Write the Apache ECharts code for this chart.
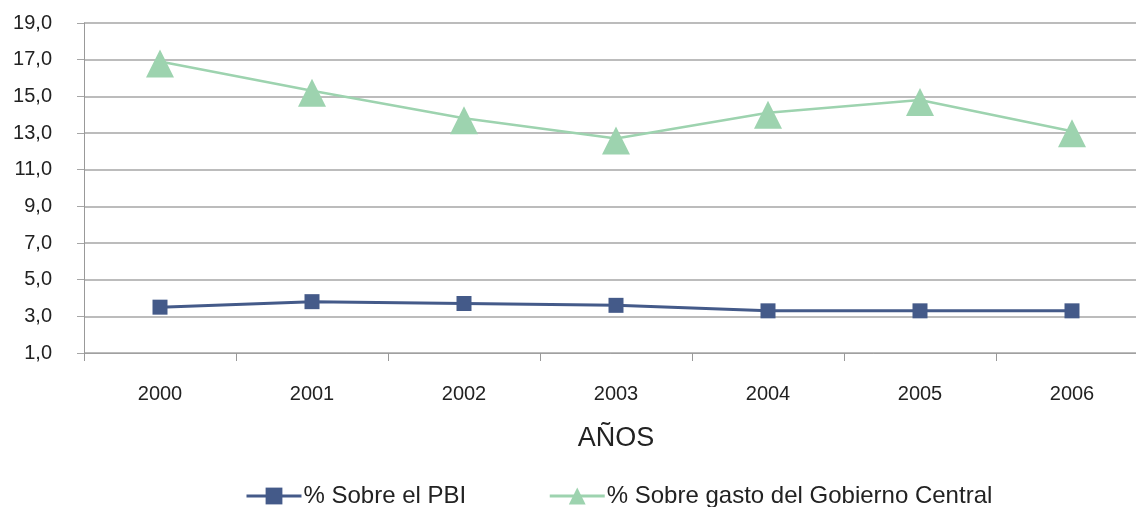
<!DOCTYPE html>
<html>
<head>
<meta charset="utf-8">
<script src="https://cdn.jsdelivr.net/npm/echarts@6/dist/echarts.min.js"></script>
<style>
html, body { margin: 0; padding: 0; background: #fff; }
#main { width: 1136px; height: 507px; }
</style>
</head>
<body>
<div id="main"></div>
<script>
var years = ['2000', '2001', '2002', '2003', '2004', '2005', '2006'];
var pbi = [3.5, 3.8, 3.7, 3.6, 3.3, 3.3, 3.3];
var gobierno = [16.9, 15.3, 13.8, 12.7, 14.1, 14.8, 13.1];
var nombres = ['% Sobre el PBI', '% Sobre gasto del Gobierno Central'];

var myChart = echarts.init(document.getElementById('main'));
var option = {
	animation: false,
	textStyle: { fontFamily: 'Liberation Sans, Arial, sans-serif' },
	// el eje x sigue mas alla del borde derecho
	grid: { left: 84, width: 1064, top: 23, height: 330, outerBoundsMode: 'none' },
	legend: {
		top: 484,
		left: 245,
		padding: 0,
		itemGap: 82,
		itemWidth: 55,
		itemHeight: 21,
		lineStyle: { width: 3 },
		textStyle: { fontSize: 24, color: '#222', padding: [0, 0, 0, -3] },
		data: nombres
	},
	xAxis: {
		type: 'category',
		data: years,
		boundaryGap: true,
		name: 'AÑOS',
		nameLocation: 'middle',
		nameGap: 72,
		nameTextStyle: { fontSize: 27, color: '#222' },
		axisLine: { lineStyle: { color: '#a0a0a0', width: 1 } },
		axisTick: { show: true, length: 8, lineStyle: { color: '#999' } },
		axisLabel: { fontSize: 20, color: '#222', margin: 31 }
	},
	yAxis: {
		type: 'value',
		min: 1,
		max: 19,
		interval: 2,
		axisLine: { show: true, lineStyle: { color: '#999', width: 1 } },
		axisTick: { show: true, length: 7, lineStyle: { color: '#a6a6a6' } },
		axisLabel: {
			fontSize: 20,
			color: '#222',
			margin: 32,
			formatter: function (v) { return v.toFixed(1).replace('.', ','); }
		},
		splitLine: { lineStyle: { color: '#a6a6a6', width: 1.5 } }
	},
	series: [
		{
			name: nombres[0],
			type: 'line',
			data: pbi,
			symbol: 'rect',
			symbolSize: 15,
			color: '#445a89',
			lineStyle: { width: 3, color: '#445a89' },
			itemStyle: { color: '#445a89' }
		},
		{
			name: nombres[1],
			type: 'line',
			data: gobierno,
			symbol: 'triangle',
			symbolSize: 28,
			symbolOffset: [0, 2],
			color: '#9dd3af',
			lineStyle: { width: 2.5, color: '#9dd3af' },
			itemStyle: { color: '#9dd3af' }
		}
	]
};
myChart.setOption(option, true);
</script>
</body>
</html>
